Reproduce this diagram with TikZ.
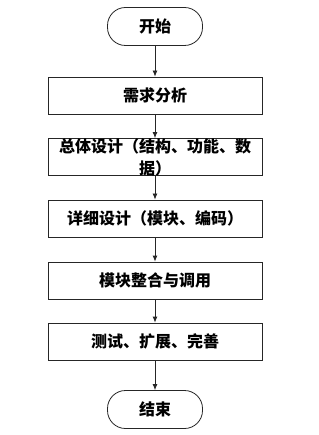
\documentclass[tikz,border=0pt]{standalone}
\usepackage{fontspec}
\setmainfont{Noto Sans CJK SC}
\usetikzlibrary{arrows.meta}
\begin{document}
\begin{tikzpicture}[x=1pt,y=-1pt,
  every node/.style={font=\fontsize{16}{22}\selectfont\bfseries},
  procbox/.style={draw=black!85, line width=0.8pt, minimum width=214pt, minimum height=37pt, inner sep=0pt},
  termbox/.style={draw=black!85, line width=0.8pt, rounded corners=18pt, minimum width=95pt, minimum height=38pt, inner sep=0pt},
  flow/.style={draw=black!85, line width=0.8pt, -{Latex[length=6pt,width=5pt]}}]
\useasboundingbox (0,0) rectangle (318,435);
\node[termbox] (s) at (155,26.5) {开始};
\node[procbox] (b1) at (155,95.5) {需求分析};
\node[procbox] (b2) at (155,157) {};
\node[align=center, inner sep=0pt] (t2) at (155,157) {总体设计（结构、功能、数\\据）};
\node[procbox] (b3) at (155,218.5) {详细设计（模块、编码）};
\node[procbox] (b4) at (155,280.5) {模块整合与调用};
\node[procbox] (b5) at (155,341.5) {测试、扩展、完善};
\node[termbox] (e) at (155,409.5) {结束};
\draw[flow] (s) -- (b1);
\draw[flow] (b1) -- (b2);
\draw[flow] (b2) -- (b3);
\draw[flow] (b3) -- (b4);
\draw[flow] (b4) -- (b5);
\draw[flow] (b5) -- (e);
\end{tikzpicture}
\end{document}
